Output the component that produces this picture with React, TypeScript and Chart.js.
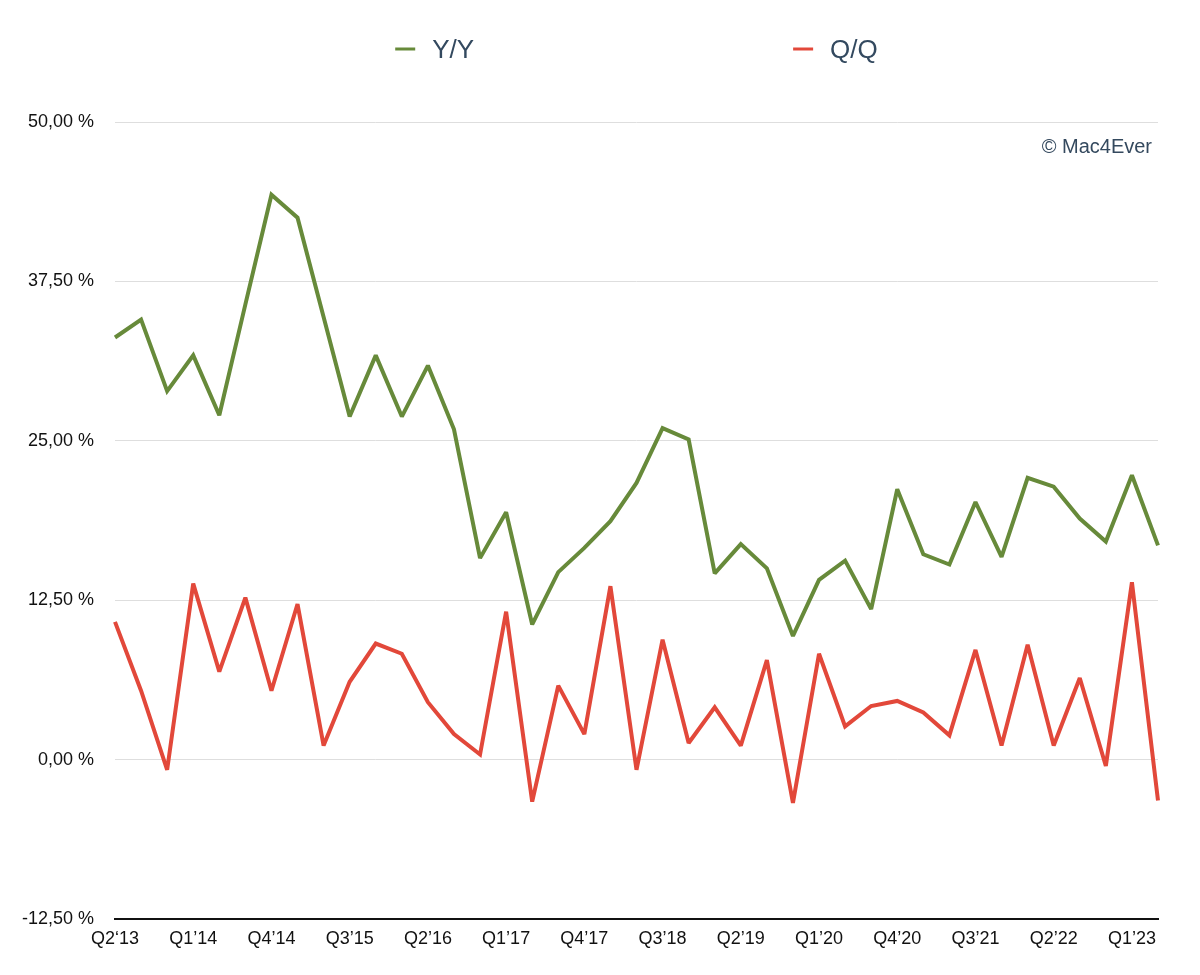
import React, { useEffect, useRef } from "react";
import { Chart, registerables } from "chart.js";

Chart.register(...registerables);

const quarters: string[] = [
  "Q2‘13", "Q3’13", "Q4’13", "Q1’14", "Q2’14", "Q3’14", "Q4’14", "Q1’15", "Q2’15", "Q3’15",
  "Q4’15", "Q1’16", "Q2’16", "Q3’16", "Q4’16", "Q1’17", "Q2’17", "Q3’17", "Q4’17", "Q1’18",
  "Q2’18", "Q3’18", "Q4’18", "Q1’19", "Q2’19", "Q3’19", "Q4’19", "Q1’20", "Q2’20", "Q3’20",
  "Q4’20", "Q1’21", "Q2’21", "Q3’21", "Q4’21", "Q1’22", "Q2’22", "Q3’22", "Q4’22", "Q1’23",
  "Q2’23",
];

const yoy: number[] = [
  33.1, 34.5, 28.9, 31.7, 27.0, 35.7, 44.3, 42.5, 34.7, 26.9,
  31.7, 26.9, 30.9, 25.9, 15.8, 19.4, 10.6, 14.7, 16.6, 18.7,
  21.7, 26.0, 25.1, 14.6, 16.9, 15.0, 9.7, 14.1, 15.6, 11.8,
  21.2, 16.1, 15.3, 20.2, 15.9, 22.1, 21.4, 18.9, 17.1, 22.3,
  16.8,
];

const qoq: number[] = [
  10.8, 5.4, -0.8, 13.8, 6.9, 12.7, 5.4, 12.2, 1.1, 6.1,
  9.1, 8.3, 4.5, 2.0, 0.4, 11.6, -3.3, 5.8, 2.0, 13.6,
  -0.8, 9.4, 1.3, 4.1, 1.1, 7.8, -3.4, 8.3, 2.6, 4.2,
  4.6, 3.7, 1.9, 8.6, 1.1, 9.0, 1.1, 6.4, -0.5, 13.9,
  -3.2,
];

const seriesLabels = ["Y/Y", "Q/Q"];
const seriesColors = ["#678a3a", "#e2483a"];
const yTicks: number[] = [-12.5, 0, 12.5, 25, 37.5, 50];
const watermark = "© Mac4Ever";

const FONT = "'Liberation Sans', Arial, Helvetica, sans-serif";

const miterPlugin = {
  id: "miterLimit",
  beforeDatasetsDraw(chart: any) {
    chart.ctx.miterLimit = 2.2;
  },
};

const customLegend = {
  id: "customLegend",
  afterDraw(chart: any) {
    const { ctx, chartArea } = chart;
    ctx.save();
    ctx.font = `26px ${FONT}`;
    ctx.textBaseline = "middle";
    const sample = 20;
    const textGap = 17;
    const itemGap = 319;
    const y = 49;
    const items = chart.data.datasets.map((ds: any) => ({
      label: ds.label,
      color: ds.borderColor,
      w: sample + textGap + ctx.measureText(ds.label).width,
    }));
    const total = items.reduce((s: number, it: any) => s + it.w, 0) + itemGap * (items.length - 1);
    let x = (chartArea.left + chartArea.right) / 2 - total / 2;
    items.forEach((it: any) => {
      ctx.strokeStyle = it.color;
      ctx.lineWidth = 3;
      ctx.lineCap = "butt";
      ctx.beginPath();
      ctx.moveTo(x, y);
      ctx.lineTo(x + sample, y);
      ctx.stroke();
      ctx.fillStyle = "#33495f";
      ctx.textAlign = "left";
      ctx.fillText(it.label, x + sample + textGap, y + 2);
      x += it.w + itemGap;
    });
    ctx.font = `20px ${FONT}`;
    ctx.fillStyle = "#34495e";
    ctx.textAlign = "right";
    ctx.fillText(watermark, chartArea.right - 6, 147);
    ctx.restore();
  },
};

export default function App() {
  const ref = useRef<HTMLCanvasElement | null>(null);

  useEffect(() => {
    if (!ref.current) return;
    const chart = new Chart(ref.current, {
      type: "line",
      data: {
        labels: quarters,
        datasets: [
          {
            label: seriesLabels[0],
            data: yoy,
            borderColor: seriesColors[0],
            backgroundColor: seriesColors[0],
            borderWidth: 4,
            pointRadius: 0,
            tension: 0,
            borderJoinStyle: "miter",
          },
          {
            label: seriesLabels[1],
            data: qoq,
            borderColor: seriesColors[1],
            backgroundColor: seriesColors[1],
            borderWidth: 4,
            pointRadius: 0,
            tension: 0,
            borderJoinStyle: "miter",
          },
        ],
      },
      options: {
        animation: false,
        responsive: true,
        maintainAspectRatio: false,
        layout: { padding: { top: 122, right: 42, left: 0, bottom: 0 } },
        plugins: {
          legend: { display: false },
          tooltip: { enabled: false },
        },
        scales: {
          x: {
            type: "category",
            offset: false,
            grid: { display: false, drawTicks: false },
            border: { display: true, color: "#111111", width: 2 },
            ticks: {
              autoSkip: false,
              maxRotation: 0,
              padding: 9,
              color: "#111111",
              font: { family: FONT, size: 18 },
              callback: (_v: any, i: number) => (i % 3 === 0 ? quarters[i] : ""),
            },
            afterFit: (scale: any) => {
              scale.height = 56;
            },
          },
          y: {
            min: -12.5,
            max: 50,
            afterBuildTicks: (scale: any) => {
              scale.ticks = yTicks.map((v) => ({ value: v }));
            },
            grid: { color: "#dedede", lineWidth: 1, drawTicks: false },
            border: { display: false },
            ticks: {
              padding: 21,
              color: "#111111",
              font: { family: FONT, size: 18 },
              callback: (v: any) =>
                Number(v).toFixed(2).replace(".", ",") + " %",
            },
            afterFit: (scale: any) => {
              scale.width = 115;
            },
          },
        },
      },
      plugins: [miterPlugin, customLegend],
    });
    return () => chart.destroy();
  }, []);

  return (
    <div style={{ position: "fixed", left: 0, top: 0, width: 1200, height: 975, background: "#ffffff" }}>
      <canvas ref={ref} />
    </div>
  );
}
